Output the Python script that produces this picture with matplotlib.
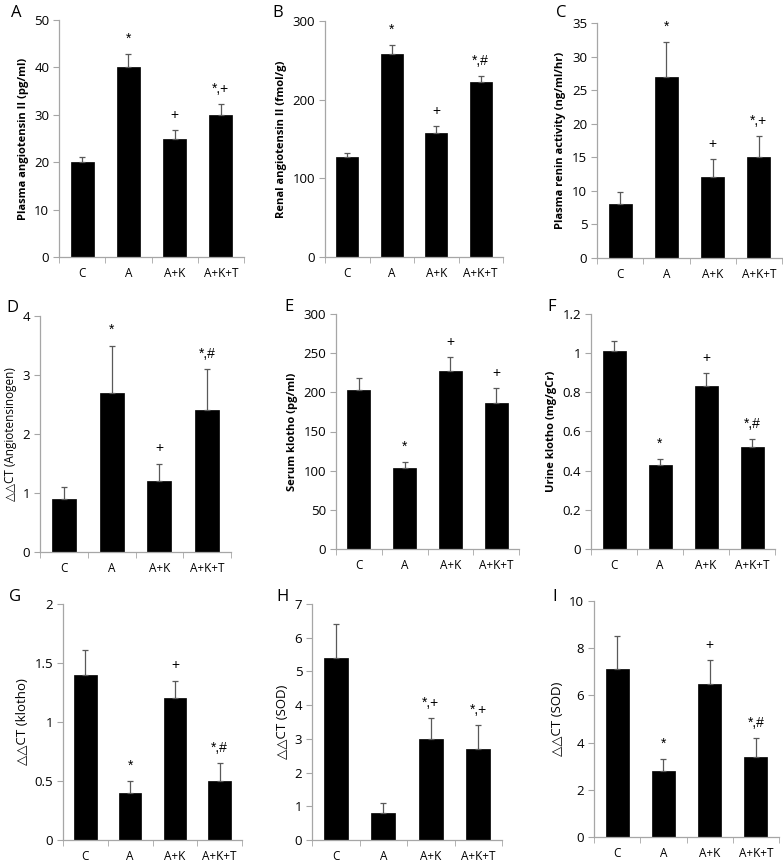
import matplotlib
matplotlib.use("Agg")
import matplotlib.pyplot as plt
import numpy as np

plt.rcParams['font.family'] = ['Open Sans', 'DejaVu Sans']

groups = ["C", "A", "A+K", "A+K+T"]

a_vals = [20, 40, 25, 30]
a_err = [1.2, 2.8, 1.8, 2.2]
a_sig = ["", "*", "+", "*,+"]

b_vals = [127, 258, 158, 222]
b_err = [5, 12, 8, 8]
b_sig = ["", "*", "+", "*,#"]

c_vals = [8, 27, 12, 15]
c_err = [1.8, 5.2, 2.7, 3.1]
c_sig = ["", "*", "+", "*,+"]

d_vals = [0.9, 2.7, 1.2, 2.4]
d_err = [0.2, 0.8, 0.3, 0.7]
d_sig = ["", "*", "+", "*,#"]

e_vals = [203, 103, 227, 187]
e_err = [15, 8, 18, 18]
e_sig = ["", "*", "+", "+"]

f_vals = [1.01, 0.43, 0.83, 0.52]
f_err = [0.05, 0.03, 0.07, 0.04]
f_sig = ["", "*", "+", "*,#"]

g_vals = [1.4, 0.4, 1.2, 0.5]
g_err = [0.21, 0.1, 0.15, 0.15]
g_sig = ["", "*", "+", "*,#"]

h_vals = [5.4, 0.8, 3.0, 2.7]
h_err = [1.0, 0.3, 0.62, 0.7]
h_sig = ["", "", "*,+", "*,+"]

i_vals = [7.1, 2.8, 6.5, 3.4]
i_err = [1.4, 0.5, 1.0, 0.8]
i_sig = ["", "*", "+", "*,#"]

W, H = 783, 864
fig = plt.figure(figsize=(W / 100, H / 100), dpi=100)

panels = [
    # letter, vals, err, sig, ylabel, ymax, ystep, (left, right, top, bottom px), letter pos, bold, label size
    ("A", a_vals, a_err, a_sig, "Plasma angiotensin II (pg/ml)", 50, 10, (59, 244, 20, 257), (16, 13), True, 8),
    ("B", b_vals, b_err, b_sig, "Renal angiotensin II (fmol/g)", 300, 100, (325, 503, 21, 257), (278, 13), True, 8),
    ("C", c_vals, c_err, c_sig, "Plasma renin activity (ng/ml/hr)", 35, 5, (597, 782, 23, 258), (561, 13), True, 8),
    ("D", d_vals, d_err, d_sig, "△△CT (Angiotensinogen)", 4, 1, (40, 231, 316, 552), (12, 308), False, 8.5),
    ("E", e_vals, e_err, e_sig, "Serum klotho (pg/ml)", 300, 50, (336, 519, 314, 549), (289, 307), True, 8),
    ("F", f_vals, f_err, f_sig, "Urine klotho (mg/gCr)", 1.2, 0.2, (591, 775, 314, 549), (552, 307), True, 8),
    ("G", g_vals, g_err, g_sig, "△△CT (klotho)", 2, 0.5, (63, 242, 604, 840), (15, 597), False, 9.5),
    ("H", h_vals, h_err, h_sig, "△△CT (SOD)", 7, 1, (312, 502, 604, 840), (283, 597), False, 9.5),
    ("I", i_vals, i_err, i_sig, "△△CT (SOD)", 10, 2, (594, 779, 601, 837), (555, 597), False, 9.5),
]

axis_gray = "#a6a6a6"
x = np.arange(len(groups))

for letter, vals, err, sig, ylabel, ymax, ystep, (l, r, t, b), (lx, ly), bold, lsize in panels:
    ax = fig.add_axes([l / W, 1 - b / H, (r - l) / W, (b - t) / H])
    ax.bar(x, vals, width=0.5, color="black", edgecolor="black", linewidth=0.5, zorder=2)
    ax.errorbar(x, vals, yerr=[np.zeros(len(vals)), err], fmt="none",
                ecolor="#595959", elinewidth=0.9, capsize=2.5, capthick=0.9, zorder=3)
    for xi, v, e, s in zip(x, vals, err, sig):
        if s:
            ax.text(xi, v + e + 0.035 * ymax, s, ha="center", va="bottom",
                    fontsize=10, color="black", family=["Liberation Sans", "DejaVu Sans"])
    ax.set_xlim(-0.5, len(groups) - 0.5)
    ax.set_ylim(0, ymax)
    ticks = np.arange(0, ymax + ystep / 2, ystep)
    ax.set_yticks(ticks)
    ax.set_yticklabels(["{:g}".format(round(tk, 2)) for tk in ticks], fontsize=9.5)
    ax.set_xticks(x)
    ax.set_xticklabels(groups, fontsize=8.5)
    ax.set_xticks(np.arange(-0.5, len(groups)), minor=True)
    ax.tick_params(axis="x", which="major", length=0, pad=7)
    ax.tick_params(axis="x", which="minor", length=4, color=axis_gray, direction="out")
    ax.tick_params(axis="y", length=4, color=axis_gray, direction="out", pad=3)
    for side in ("top", "right"):
        ax.spines[side].set_visible(False)
    for side in ("left", "bottom"):
        ax.spines[side].set_color(axis_gray)
        ax.spines[side].set_linewidth(0.9)
    ax.set_ylabel(ylabel, fontsize=lsize, fontweight="bold" if bold else "normal",
                  labelpad=4)
    fig.text(lx / W, 1 - ly / H, letter, fontsize=12, ha="center", va="center")

fig.savefig("out.png", dpi=100, facecolor="white")
